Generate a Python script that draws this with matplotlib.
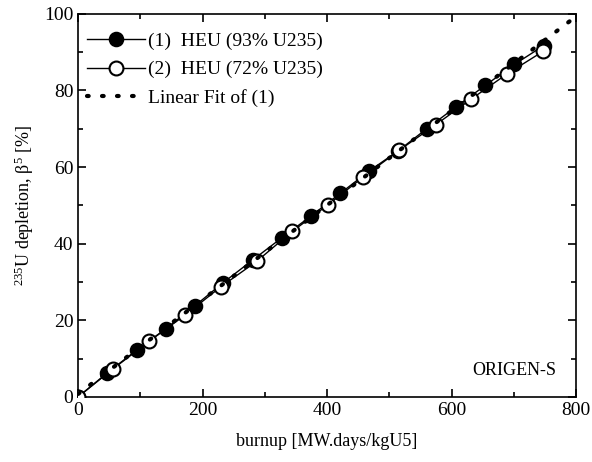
import numpy as np
import matplotlib
matplotlib.use("Agg")
import matplotlib.pyplot as plt
from matplotlib.ticker import MultipleLocator

plt.rcParams['font.family'] = ['Liberation Serif', 'DejaVu Serif']
plt.rcParams['mathtext.fontset'] = 'custom'
plt.rcParams['mathtext.rm'] = 'Liberation Serif'
plt.rcParams['mathtext.default'] = 'regular'

# (1) HEU 93% U235
burnup_93 = [0, 47, 94, 141, 187, 233, 281, 327, 374, 421, 467, 514, 560, 607, 654, 701, 748]
depl_93 = [0, 6.3, 12.2, 17.8, 23.7, 29.8, 35.8, 41.5, 47.2, 53.1, 58.9, 64.2, 70.0, 75.7, 81.3, 86.8, 91.7]

# (2) HEU 72% U235
burnup_72 = [0, 56, 114, 171.5, 229, 287, 344, 402, 458, 516, 575, 632, 689, 747]
depl_72 = [0, 7.3, 14.5, 21.3, 28.7, 35.4, 43.2, 50.2, 57.4, 64.4, 71.1, 77.8, 84.3, 90.2]

fit_range = [0, 790]

fig = plt.figure(figsize=(5.92, 4.62), dpi=100)
ax = fig.add_axes([0.132, 0.141, 0.841, 0.829])

# linear fit of series (1)
slope, icpt = np.polyfit(burnup_93, depl_93, 1)
xf = np.linspace(fit_range[0], fit_range[1], 200)

ax.plot(burnup_93, depl_93, '-', color='black', lw=1.0, marker='o', ms=10,
        mfc='black', mec='black', mew=1.2, label='(1)  HEU (93% U235)', zorder=3)
ax.plot(burnup_72, depl_72, '-', color='black', lw=1.0, marker='o', ms=10,
        mfc='white', mec='black', mew=1.5, label='(2)  HEU (72% U235)', zorder=4)
ax.plot(xf, slope * xf + icpt, color='black', lw=3, linestyle=(0, (0.4, 3.2)),
        dash_capstyle='round', label='Linear Fit of (1)', zorder=5)

ax.set_xlim(0, 800)
ax.set_ylim(0, 100)
ax.xaxis.set_major_locator(MultipleLocator(200))
ax.xaxis.set_minor_locator(MultipleLocator(100))
ax.yaxis.set_major_locator(MultipleLocator(20))
ax.yaxis.set_minor_locator(MultipleLocator(10))
ax.tick_params(which='both', direction='in', top=True, right=True, labelsize=14, width=1.2)
ax.tick_params(which='major', length=6)
ax.tick_params(which='minor', length=3.5)
for s in ax.spines.values():
    s.set_linewidth(1.2)

ax.set_xlabel('burnup [MW.days/kgU5]', fontsize=13, labelpad=10)
ax.set_ylabel(r'$^{235}$U depletion, β$^{5}$ [%]', fontsize=13, labelpad=6)

ax.text(0.96, 0.07, 'ORIGEN-S', transform=ax.transAxes, ha='right', va='center', fontsize=13)

leg = ax.legend(loc='upper left', frameon=False, fontsize=14, handlelength=3.0,
                handletextpad=0.15, borderaxespad=0.55, labelspacing=0.55,
                bbox_to_anchor=(-0.02, 1.0))

fig.savefig('out.png', dpi=100)
